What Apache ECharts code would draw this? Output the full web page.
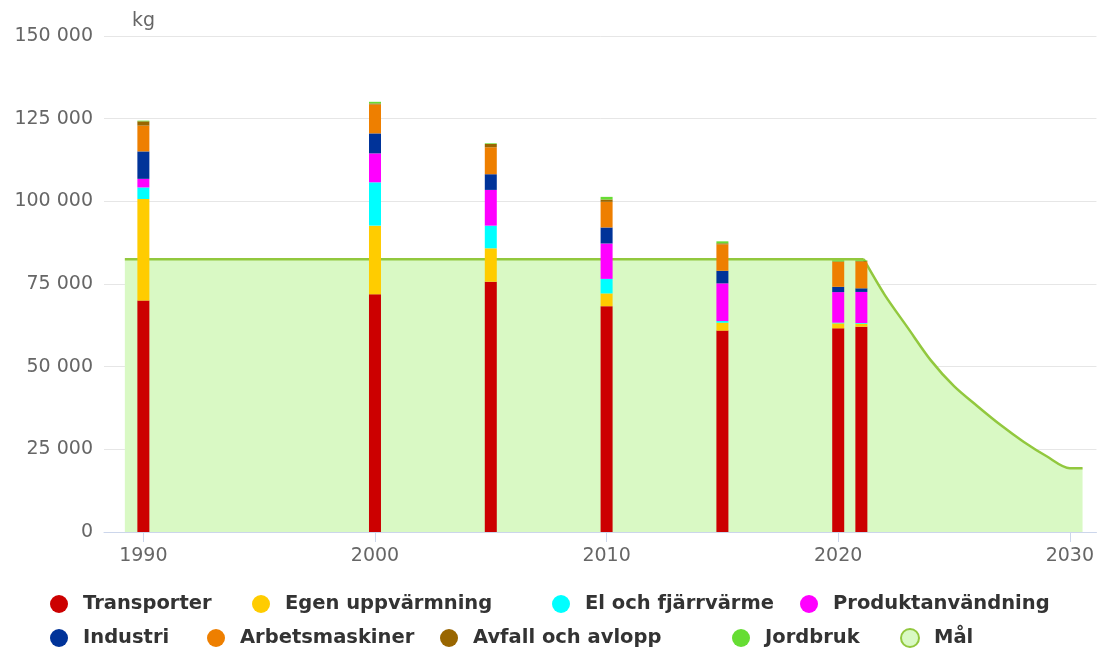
<!DOCTYPE html>
<html>
<head>
<meta charset="utf-8">
<script src="https://cdn.jsdelivr.net/npm/echarts@6/dist/echarts.min.js"></script>
<style>
  html, body { margin: 0; padding: 0; background: #ffffff; }
  #chart { width: 1097px; height: 648px; }
</style>
</head>
<body>
<div id="chart"></div>
<script>
// Emissions per sector (kg), by year
const years = [1990, 2000, 2005, 2010, 2015, 2020, 2021];
const transporter       = [70000, 71900, 75700, 68300, 60900, 61600, 62100];
const egenUppvarmning   = [30700, 20750, 10100, 3850, 2400, 1500, 900];
const elOchFjarrvarme   = [3500, 13100, 6850, 4400, 500, 200, 200];
const produktanvandning = [2600, 8750, 10800, 10700, 11400, 9250, 9400];
const industri          = [8300, 6050, 4750, 4850, 3800, 1600, 1100];
const arbetsmaskiner    = [7800, 8750, 8150, 7750, 8000, 7550, 8100];
const avfallOchAvlopp   = [1300, 300, 1000, 700, 300, 150, 150];
const jordbruk          = [200, 500, 200, 800, 600, 300, 200];

// Target path (Mål): flat level, then the reduction path to 2030
const malFlatYears    = [1989.2, 2021.1];
const malFlatValues   = [82500, 82500];
const malPathYears    = [2021.1, 2022, 2023, 2024, 2025, 2026, 2027, 2028, 2029, 2030, 2030.55];
const malPathValues   = [82500, 71800, 61800, 51900, 44100, 38100, 32400, 27300, 22900, 19300, 19300];

const xTickYears = [1990, 2000, 2010, 2020, 2030];

const sectors = [
  { name: 'Transporter',       values: transporter,       color: '#cc0000' },
  { name: 'Egen uppvärmning',  values: egenUppvarmning,   color: '#ffcc00' },
  { name: 'El och fjärrvärme', values: elOchFjarrvarme,   color: '#00ffff' },
  { name: 'Produktanvändning', values: produktanvandning, color: '#ff00ff' },
  { name: 'Industri',          values: industri,          color: '#003399' },
  { name: 'Arbetsmaskiner',    values: arbetsmaskiner,    color: '#ee7f00' },
  { name: 'Avfall och avlopp', values: avfallOchAvlopp,   color: '#996600' },
  { name: 'Jordbruk',          values: jordbruk,          color: '#66dd33' }
];
const malName = 'Mål';
const malLine = '#92c83e';
const malFill = '#d9f9c4';

const FONT = 'DejaVu Sans';

// legend item placement: [name, left, top]
const legendSlots = [
  ['Transporter', 50, 594], ['Egen uppvärmning', 252, 594], ['El och fjärrvärme', 552, 594], ['Produktanvändning', 800, 594],
  ['Industri', 50, 628], ['Arbetsmaskiner', 207, 628], ['Avfall och avlopp', 440, 628], ['Jordbruk', 732, 628], [malName, 900, 628]
];

const chart = echarts.init(document.getElementById('chart'), null, { renderer: 'canvas' });

// value first, year second, so the stack is applied to the value dimension
const barSeries = sectors.map(s => ({
  name: s.name,
  type: 'bar',
  stack: 'total',
  barWidth: 12,
  z: 3,
  encode: { x: 1, y: 0 },
  itemStyle: { color: s.color },
  emphasis: { disabled: true },
  data: years.map((y, i) => [s.values[i], y])
}));

function malSeries(xs, vs, smooth) {
  return {
    name: malName,
    type: 'line',
    z: 1,
    symbol: 'none',
    smooth: smooth,
    lineStyle: { color: malLine, width: 2.5 },
    itemStyle: { color: malFill, borderColor: malLine, borderWidth: 2 },
    areaStyle: { color: malFill, opacity: 1 },
    emphasis: { disabled: true },
    data: xs.map((x, i) => [x, vs[i]])
  };
}

const legends = legendSlots.map(([name, left, top]) => ({
  data: [name === malName
    ? { name, itemStyle: { color: malFill, borderColor: malLine, borderWidth: 2 } }
    : { name }],
  left, top,
  padding: 0,
  icon: 'circle',
  itemWidth: 18,
  itemHeight: 18,
  selectedMode: false,
  textStyle: { fontFamily: FONT, fontSize: 19.5, fontWeight: 'bold', color: '#333333', padding: [0, 0, 0, 10] }
}));

chart.setOption({
  animation: false,
  backgroundColor: '#ffffff',
  title: {
    text: 'kg', left: 132, top: 12, padding: 0,
    textStyle: { fontFamily: FONT, fontSize: 19, fontWeight: 'normal', color: '#666666' }
  },
  legend: legends,
  grid: { left: 104, right: 0, top: 36, bottom: 116 },
  xAxis: {
    type: 'value',
    min: 1988.3,
    max: 2031.15,
    axisLine: { show: true, lineStyle: { color: '#ccd6eb', width: 1 } },
    axisTick: { show: true, customValues: xTickYears, length: 10, lineStyle: { color: '#ccd6eb' } },
    axisLabel: {
      customValues: xTickYears, margin: 15,
      fontFamily: FONT, fontSize: 19, color: '#666666',
      formatter: v => String(v)
    },
    splitLine: { show: false }
  },
  yAxis: {
    type: 'value',
    min: 0,
    max: 150000,
    interval: 25000,
    axisLine: { show: false },
    axisTick: { show: false },
    axisLabel: {
      margin: 11, fontFamily: FONT, fontSize: 19, color: '#666666',
      formatter: v => String(v).replace(/\B(?=(\d{3})+(?!\d))/g, ' ')
    },
    splitLine: { lineStyle: { color: '#e6e6e6', width: 1 } }
  },
  series: [
    malSeries(malFlatYears, malFlatValues, false),
    malSeries(malPathYears, malPathValues, 0.3)
  ].concat(barSeries)
});
</script>
</body>
</html>
